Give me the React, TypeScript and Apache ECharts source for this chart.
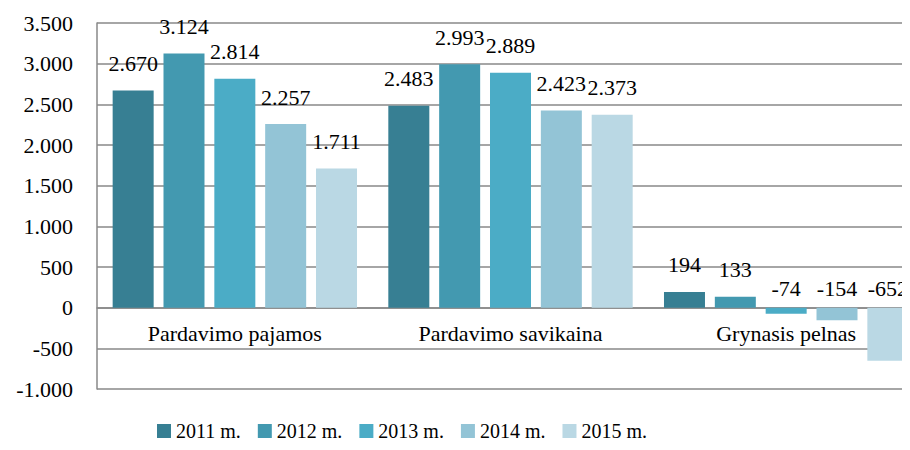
import React, { useEffect, useRef } from "react";
import * as echarts from "echarts";

const categories = ["Pardavimo pajamos", "Pardavimo savikaina", "Grynasis pelnas"];
const seriesNames = ["2011 m.", "2012 m.", "2013 m.", "2014 m.", "2015 m."];
const values2011 = [2670, 2483, 194];
const values2012 = [3124, 2993, 133];
const values2013 = [2814, 2889, -74];
const values2014 = [2257, 2423, -154];
const values2015 = [1711, 2373, -652];
const colors = ["#377F93", "#4399B0", "#4BACC6", "#93C4D6", "#BAD8E4"];

const FONT = "'Liberation Serif', serif";
const Y_MIN = -1000;
const Y_MAX = 3500;
const GRID_TOP = 23;
const GRID_BOTTOM = 61;
const HEIGHT = 450;
const CHART_W = 924;

function fmt(v: number): string {
  const s = Math.abs(v).toString();
  const withSep = s.replace(/\B(?=(\d{3})+(?!\d))/g, ".");
  return (v < 0 ? "-" : "") + withSep;
}

export default function App() {
  const ref = useRef<HTMLDivElement>(null);
  useEffect(() => {
    if (!ref.current) return;
    const chart = echarts.init(ref.current, undefined, { renderer: "svg" });
    const all = [values2011, values2012, values2013, values2014, values2015];
    const gridH = HEIGHT - GRID_TOP - GRID_BOTTOM;
    const zeroFromBottom = (gridH * (0 - Y_MIN)) / (Y_MAX - Y_MIN);
    chart.setOption({
      animation: false,
      textStyle: { fontFamily: FONT },
      grid: { left: 97, right: 0, top: GRID_TOP, bottom: GRID_BOTTOM },
      legend: {
        top: 416,
        left: 152,
        itemWidth: 14,
        itemHeight: 14,
        itemGap: 17,
        icon: "rect",
        textStyle: { fontFamily: FONT, fontSize: 20, color: "#000" },
        data: seriesNames,
      },
      xAxis: {
        type: "category",
        data: categories,
        position: "bottom",
        offset: -zeroFromBottom,
        axisLine: { onZero: false, lineStyle: { color: "#888", width: 1.5 } },
        axisTick: { show: false },
        axisLabel: { fontFamily: FONT, fontSize: 22, color: "#000", margin: 15 },
        z: 1,
      },
      yAxis: {
        type: "value",
        min: Y_MIN,
        max: Y_MAX,
        interval: 500,
        axisLine: { show: true, lineStyle: { color: "#888", width: 1.5 } },
        axisTick: { show: false },
        splitLine: { lineStyle: { color: "#888", width: 1.5 } },
        axisLabel: {
          fontFamily: FONT,
          fontSize: 22,
          color: "#000",
          margin: 24,
          formatter: (v: number) => fmt(v),
        },
      },
      series: seriesNames.map((name, i) => ({
        name,
        type: "bar",
        barWidth: 41,
        barGap: "24%",
        itemStyle: { color: colors[i] },
        z: 3,
        data: all[i].map((v) => ({
          value: v,
          label: {
            show: true,
            position: "top",
            distance: v < 0 ? 8 : 16,
          },
        })),
        label: {
          show: true,
          fontFamily: FONT,
          fontSize: 22,
          color: "#000",
          formatter: (p: any) => fmt(p.value),
        },
      })),
    });
    return () => chart.dispose();
  }, []);
  return (
    <div style={{ width: 910, height: 450, margin: -8, overflow: "hidden" }}>
      <div ref={ref} style={{ width: CHART_W, height: HEIGHT }} />
    </div>
  );
}
